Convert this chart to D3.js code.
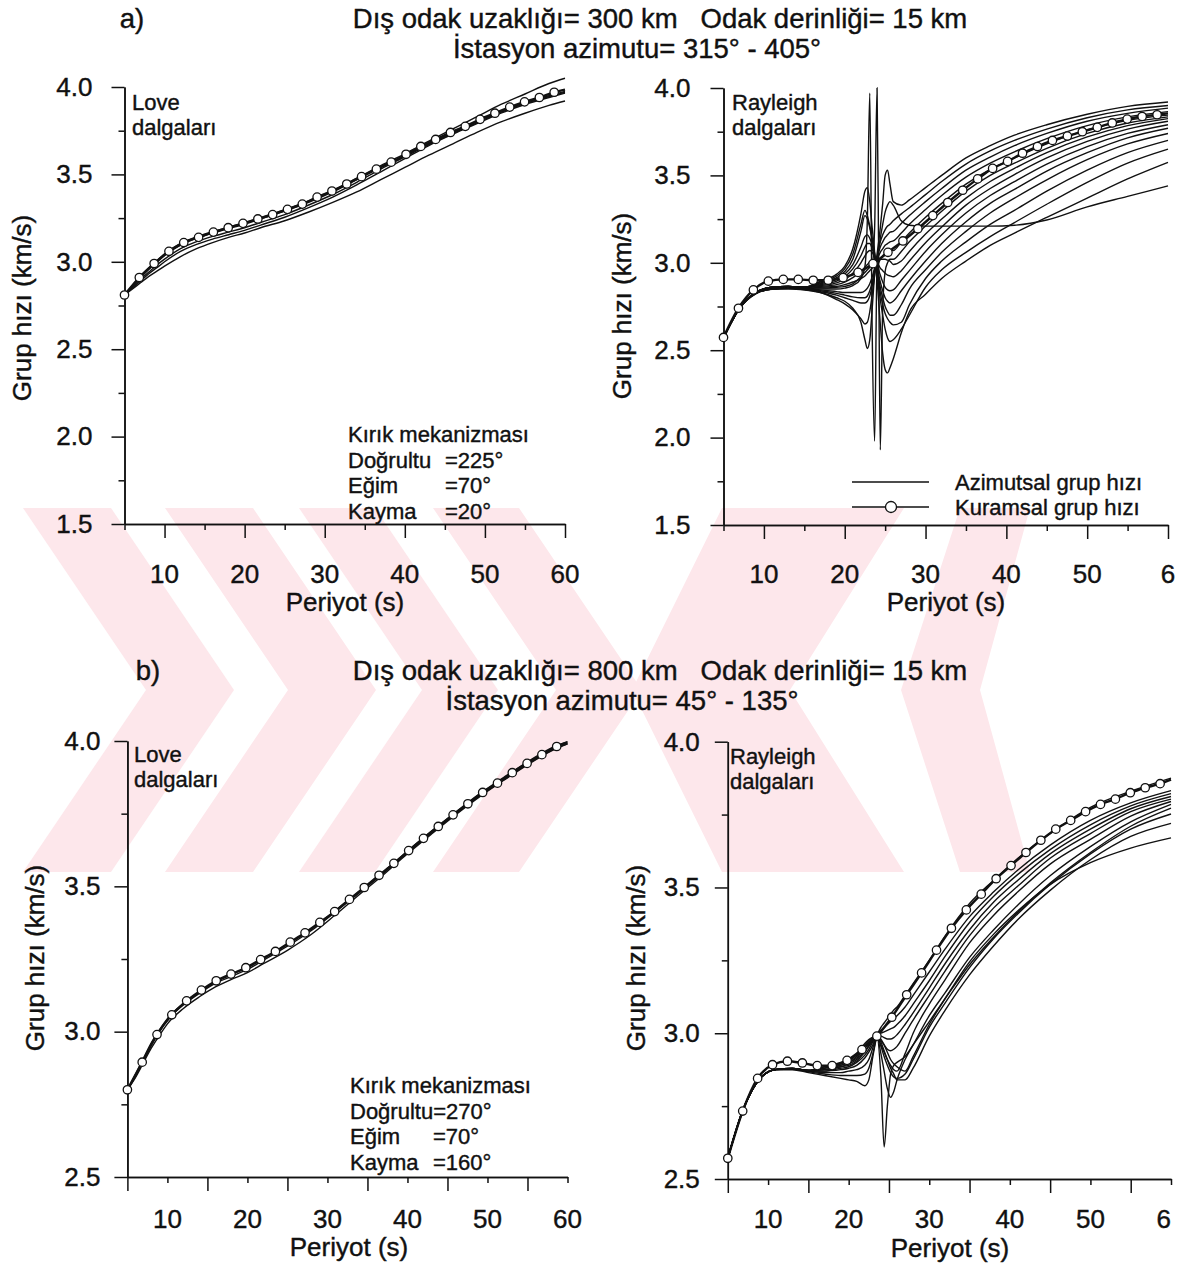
<!DOCTYPE html>
<html lang="tr">
<head>
  <meta charset="UTF-8">
  <title>Grup hızı - azimut</title>
  <script src="https://d3js.org/d3.v7.min.js"></script>
  <style>
    body { margin: 0; background: #fff; }
    svg text { font-family: "Liberation Sans", Arial, sans-serif; fill: #111; stroke: #111; stroke-width: 0.4px; }
    .azi { fill: none; stroke: #111; stroke-width: 1.4px; }
    .theo { fill: none; stroke: #111; stroke-width: 2.4px; }
    .circ { fill: #fff; stroke: #111; stroke-width: 1.3px; }
    .axis path, .axis line { stroke: #111; stroke-width: 1.5px; }
  </style>
</head>
<body>
<div id="chart"></div>
<script>
// periods of the theoretical (circle) points; last one only closes the line
const theoPeriods = [5, 6.85, 8.7, 10.55, 12.4, 14.25, 16.1, 17.95, 19.8, 21.65, 23.5, 25.35, 27.2, 29.05, 30.9,
  32.75, 34.6, 36.45, 38.3, 40.15, 42, 43.85, 45.7, 47.55, 49.4, 51.25, 53.1, 54.95, 56.8, 58.65, 60];

// a) Love, theoretical
const loveA_theo = [2.81, 2.91, 2.99, 3.06, 3.11, 3.14, 3.17, 3.195, 3.22, 3.245, 3.27, 3.30, 3.33, 3.37, 3.405,
  3.445, 3.487, 3.53, 3.57, 3.615, 3.66, 3.70, 3.74, 3.775, 3.815, 3.85, 3.885, 3.915, 3.94, 3.97, 3.985];
// a) Rayleigh, theoretical
const rayA_theo = [2.573, 2.74, 2.845, 2.895, 2.905, 2.905, 2.90, 2.90, 2.915, 2.945, 2.995, 3.06, 3.125, 3.195, 3.27,
  3.345, 3.415, 3.48, 3.54, 3.58, 3.627, 3.665, 3.70, 3.725, 3.75, 3.775, 3.80, 3.822, 3.837, 3.847, 3.855];
// b) Love, theoretical
const loveB_theo = [2.80, 2.895, 2.99, 3.058, 3.106, 3.143, 3.175, 3.198, 3.22, 3.248, 3.276, 3.308, 3.34, 3.376, 3.413,
  3.455, 3.496, 3.538, 3.579, 3.623, 3.665, 3.706, 3.746, 3.784, 3.823, 3.855, 3.891, 3.923, 3.953, 3.981, 3.995];
// b) Rayleigh, theoretical
const rayB_theo = [2.571, 2.733, 2.845, 2.892, 2.904, 2.898, 2.889, 2.889, 2.907, 2.944, 2.99, 3.055, 3.132, 3.207, 3.285,
  3.36, 3.423, 3.477, 3.53, 3.575, 3.62, 3.662, 3.70, 3.73, 3.76, 3.785, 3.803, 3.825, 3.842, 3.856, 3.87];

// Love azimuthal curves (both cases)
const loveGrid = [5, 6, 7, 8, 9, 10, 12, 14, 16, 18, 20, 22, 25, 28, 31, 34, 37, 40, 43, 46, 49, 52, 55, 58, 60];
const loveA_azi = [
  [2.81, 2.865, 2.92, 2.965, 3.005, 3.045, 3.105, 3.143, 3.172, 3.198, 3.223, 3.253, 3.298, 3.348, 3.408, 3.478, 3.55, 3.618, 3.69, 3.76, 3.83, 3.90, 3.96, 4.02, 4.05],
  [2.81, 2.86, 2.91, 2.955, 2.995, 3.035, 3.095, 3.135, 3.165, 3.19, 3.215, 3.245, 3.29, 3.34, 3.40, 3.47, 3.54, 3.605, 3.675, 3.74, 3.80, 3.86, 3.91, 3.95, 3.975],
  [2.81, 2.855, 2.90, 2.94, 2.98, 3.015, 3.075, 3.115, 3.145, 3.17, 3.195, 3.225, 3.27, 3.325, 3.385, 3.455, 3.53, 3.60, 3.67, 3.735, 3.795, 3.855, 3.905, 3.945, 3.97],
  [2.81, 2.85, 2.89, 2.93, 2.965, 3.0, 3.06, 3.10, 3.13, 3.155, 3.18, 3.21, 3.255, 3.31, 3.37, 3.44, 3.515, 3.59, 3.665, 3.73, 3.79, 3.85, 3.90, 3.94, 3.965],
  [2.81, 2.845, 2.88, 2.915, 2.945, 2.975, 3.03, 3.075, 3.11, 3.14, 3.165, 3.195, 3.235, 3.285, 3.34, 3.40, 3.47, 3.54, 3.61, 3.675, 3.74, 3.80, 3.85, 3.895, 3.92]
];
const loveB_azi = [
  [2.80, 2.845, 2.90, 2.955, 3.0, 3.04, 3.092, 3.132, 3.166, 3.19, 3.214, 3.246, 3.294, 3.348, 3.412, 3.478, 3.545, 3.616, 3.684, 3.749, 3.811, 3.866, 3.92, 3.968, 3.99],
  [2.80, 2.842, 2.893, 2.944, 2.987, 3.027, 3.08, 3.12, 3.154, 3.18, 3.203, 3.234, 3.28, 3.335, 3.402, 3.472, 3.54, 3.612, 3.68, 3.746, 3.808, 3.864, 3.918, 3.966, 3.99],
  [2.80, 2.852, 2.908, 2.962, 3.006, 3.045, 3.096, 3.135, 3.17, 3.196, 3.22, 3.252, 3.30, 3.353, 3.417, 3.483, 3.55, 3.621, 3.69, 3.755, 3.818, 3.874, 3.928, 3.976, 3.998]
];

// a) Rayleigh azimuthal curves
const rayA_grid = [5, 7, 9, 11, 13, 15, 17, 19, 20, 21, 22, 22.5, 22.8, 23.1, 23.4, 23.7, 24.0, 24.2, 24.4, 24.7,
  25.0, 25.3, 25.6, 26, 27, 28, 30, 32, 35, 38, 41, 45, 50, 55, 60];
const rayA_azi = [
  [2.57, 2.74, 2.825, 2.85, 2.855, 2.845, 2.83, 2.80, 2.78, 2.74, 2.66, 2.56, 2.51, 2.56, 2.74, 2.93, 3.05, 3.12, 3.20, 3.34, 3.50, 3.53, 3.45, 3.35, 3.33, 3.36, 3.43, 3.50, 3.60, 3.67, 3.73, 3.79, 3.85, 3.895, 3.92],
  [2.57, 2.74, 2.825, 2.85, 2.855, 2.85, 2.835, 2.815, 2.80, 2.785, 2.77, 2.77, 2.78, 2.81, 2.87, 2.95, 3.03, 3.08, 3.12, 3.16, 3.19, 3.21, 3.22, 3.24, 3.28, 3.315, 3.39, 3.465, 3.565, 3.64, 3.70, 3.765, 3.83, 3.875, 3.90],
  [2.57, 2.74, 2.825, 2.85, 2.855, 2.85, 2.84, 2.825, 2.815, 2.805, 2.80, 2.80, 2.81, 2.84, 2.89, 2.96, 3.02, 3.06, 3.09, 3.12, 3.145, 3.16, 3.175, 3.18, 3.225, 3.27, 3.35, 3.425, 3.53, 3.605, 3.67, 3.74, 3.81, 3.855, 3.885],
  [2.57, 2.74, 2.825, 2.85, 2.855, 2.85, 2.845, 2.835, 2.83, 2.83, 2.83, 2.84, 2.855, 2.88, 2.92, 2.97, 3.015, 3.04, 3.06, 3.08, 3.10, 3.11, 3.12, 3.125, 3.17, 3.22, 3.305, 3.385, 3.49, 3.57, 3.635, 3.71, 3.785, 3.835, 3.865],
  [2.57, 2.742, 2.828, 2.855, 2.86, 2.855, 2.85, 2.85, 2.855, 2.87, 2.91, 2.98, 3.25, 3.97, 2.60, 1.98, 2.98, 3.0, 3.02, 3.04, 3.055, 3.065, 3.075, 3.07, 3.12, 3.17, 3.26, 3.34, 3.45, 3.535, 3.60, 3.68, 3.76, 3.815, 3.845],
  [2.57, 2.742, 2.828, 2.855, 2.86, 2.855, 2.855, 2.86, 2.865, 2.88, 2.92, 2.945, 2.96, 2.975, 2.99, 3.2, 4.0, 3.0, 1.93, 2.75, 2.95, 3.0, 3.02, 3.02, 3.065, 3.12, 3.21, 3.295, 3.41, 3.50, 3.57, 3.655, 3.74, 3.80, 3.835],
  [2.57, 2.742, 2.828, 2.855, 2.86, 2.855, 2.86, 2.865, 2.875, 2.89, 2.91, 2.925, 2.94, 2.955, 2.97, 2.99, 3.005, 3.01, 3.02, 3.02, 3.02, 3.015, 3.01, 2.99, 3.01, 3.065, 3.165, 3.25, 3.37, 3.465, 3.54, 3.63, 3.72, 3.785, 3.825],
  [2.57, 2.744, 2.83, 2.86, 2.865, 2.86, 2.865, 2.875, 2.89, 2.915, 2.95, 2.975, 2.99, 3.005, 3.01, 3.005, 2.995, 2.985, 2.97, 2.955, 2.94, 2.93, 2.925, 2.92, 2.955, 3.01, 3.115, 3.205, 3.33, 3.425, 3.505, 3.60, 3.695, 3.765, 3.81],
  [2.57, 2.744, 2.83, 2.86, 2.865, 2.86, 2.87, 2.885, 2.905, 2.94, 3.0, 3.04, 3.06, 3.07, 3.06, 3.03, 2.99, 2.96, 2.93, 2.89, 2.86, 2.845, 2.84, 2.845, 2.90, 2.955, 3.065, 3.16, 3.285, 3.385, 3.465, 3.565, 3.665, 3.74, 3.79],
  [2.57, 2.744, 2.83, 2.86, 2.865, 2.86, 2.875, 2.895, 2.92, 2.965, 3.04, 3.09, 3.11, 3.11, 3.08, 3.03, 2.97, 2.93, 2.89, 2.84, 2.80, 2.78, 2.77, 2.78, 2.84, 2.90, 3.01, 3.11, 3.235, 3.34, 3.42, 3.525, 3.63, 3.715, 3.77],
  [2.57, 2.744, 2.83, 2.86, 2.865, 2.86, 2.88, 2.905, 2.935, 2.99, 3.09, 3.15, 3.16, 3.14, 3.10, 3.04, 2.96, 2.91, 2.86, 2.80, 2.75, 2.72, 2.70, 2.70, 2.76, 2.85, 2.96, 3.06, 3.18, 3.285, 3.37, 3.475, 3.59, 3.68, 3.74],
  [2.57, 2.744, 2.83, 2.86, 2.865, 2.86, 2.885, 2.915, 2.95, 3.02, 3.18, 3.27, 3.25, 3.20, 3.13, 3.05, 2.95, 2.89, 2.83, 2.76, 2.71, 2.68, 2.66, 2.645, 2.66, 2.76, 2.91, 3.01, 3.12, 3.22, 3.30, 3.41, 3.53, 3.63, 3.70],
  [2.57, 2.744, 2.83, 2.86, 2.865, 2.86, 2.89, 2.925, 2.965, 3.05, 3.22, 3.30, 3.27, 3.21, 3.14, 3.05, 2.93, 2.86, 2.79, 2.70, 2.62, 2.57, 2.55, 2.56, 2.62, 2.70, 2.86, 2.96, 3.06, 3.15, 3.23, 3.335, 3.46, 3.57, 3.65],
  [2.57, 2.744, 2.83, 2.86, 2.865, 2.86, 2.895, 2.935, 2.98, 3.08, 3.28, 3.41, 3.43, 3.35, 3.20, 3.06, 2.90, 2.78, 2.65, 2.48, 2.39, 2.37, 2.40, 2.45, 2.60, 2.72, 2.82, 2.91, 3.01, 3.10, 3.17, 3.26, 3.37, 3.48, 3.575],
  [2.57, 2.74, 2.822, 2.848, 2.85, 2.845, 2.83, 2.79, 2.765, 2.73, 2.68, 2.65, 2.66, 2.72, 2.82, 2.93, 3.02, 3.08, 3.14, 3.22, 3.29, 3.33, 3.35, 3.33, 3.24, 3.215, 3.21, 3.21, 3.21, 3.21, 3.215, 3.245, 3.32, 3.38, 3.44]
];

// b) Rayleigh azimuthal curves
const rayB_grid = [5, 7, 9, 11, 13, 15, 17, 19, 20, 21, 22, 22.5, 23, 23.5, 24, 24.4, 24.8, 25.2, 25.6, 26,
  27, 28, 30, 32, 35, 38, 41, 45, 50, 55, 60];
const rayB_azi = [
  [2.571, 2.745, 2.845, 2.875, 2.875, 2.865, 2.855, 2.845, 2.84, 2.835, 2.82, 2.84, 2.92, 2.99, 3.02, 3.035, 3.05, 3.065, 3.08, 3.09, 3.13, 3.17, 3.25, 3.335, 3.445, 3.525, 3.60, 3.685, 3.775, 3.83, 3.875],
  [2.571, 2.745, 2.845, 2.875, 2.877, 2.868, 2.86, 2.855, 2.855, 2.855, 2.86, 2.88, 2.93, 2.99, 3.01, 3.02, 3.03, 3.04, 3.05, 3.06, 3.09, 3.13, 3.21, 3.29, 3.40, 3.485, 3.56, 3.645, 3.73, 3.79, 3.832],
  [2.571, 2.745, 2.845, 2.875, 2.878, 2.87, 2.865, 2.865, 2.87, 2.875, 2.89, 2.91, 2.95, 2.99, 3.0, 3.005, 3.01, 3.015, 3.02, 3.03, 3.06, 3.10, 3.18, 3.265, 3.38, 3.47, 3.545, 3.63, 3.715, 3.78, 3.822],
  [2.571, 2.745, 2.845, 2.875, 2.878, 2.87, 2.87, 2.875, 2.88, 2.89, 2.915, 2.935, 2.96, 2.99, 2.99, 2.985, 2.98, 2.98, 2.985, 2.995, 3.03, 3.07, 3.155, 3.24, 3.355, 3.45, 3.525, 3.615, 3.70, 3.77, 3.812],
  [2.571, 2.745, 2.845, 2.876, 2.879, 2.872, 2.875, 2.885, 2.89, 2.905, 2.935, 2.955, 2.975, 2.99, 2.975, 2.96, 2.945, 2.94, 2.945, 2.955, 3.0, 3.045, 3.13, 3.215, 3.335, 3.43, 3.505, 3.60, 3.685, 3.76, 3.803],
  [2.571, 2.745, 2.845, 2.876, 2.879, 2.872, 2.88, 2.89, 2.90, 2.915, 2.95, 2.965, 2.98, 2.99, 2.96, 2.935, 2.91, 2.89, 2.875, 2.87, 2.93, 3.0, 3.10, 3.185, 3.31, 3.405, 3.485, 3.58, 3.665, 3.745, 3.795],
  [2.571, 2.745, 2.845, 2.876, 2.879, 2.872, 2.885, 2.895, 2.905, 2.925, 2.96, 2.975, 2.985, 2.99, 2.93, 2.87, 2.81, 2.78, 2.80, 2.84, 2.91, 2.96, 3.06, 3.14, 3.26, 3.355, 3.44, 3.54, 3.64, 3.725, 3.785],
  [2.571, 2.745, 2.845, 2.876, 2.879, 2.872, 2.885, 2.90, 2.91, 2.93, 2.965, 2.978, 2.987, 2.99, 2.85, 2.61, 2.75, 2.86, 2.89, 2.90, 2.92, 2.96, 3.04, 3.12, 3.235, 3.33, 3.415, 3.515, 3.62, 3.71, 3.772],
  [2.571, 2.745, 2.845, 2.876, 2.879, 2.872, 2.88, 2.89, 2.90, 2.92, 2.955, 2.97, 2.982, 2.99, 2.955, 2.92, 2.89, 2.865, 2.85, 2.845, 2.86, 2.91, 3.02, 3.105, 3.225, 3.325, 3.41, 3.51, 3.615, 3.70, 3.752],
  [2.571, 2.745, 2.845, 2.876, 2.879, 2.872, 2.875, 2.885, 2.895, 2.91, 2.94, 2.958, 2.975, 2.99, 2.97, 2.94, 2.91, 2.88, 2.86, 2.84, 2.84, 2.88, 2.99, 3.08, 3.20, 3.30, 3.39, 3.49, 3.595, 3.675, 3.72],
  [2.571, 2.745, 2.845, 2.876, 2.879, 2.872, 2.87, 2.88, 2.885, 2.90, 2.925, 2.945, 2.97, 2.99, 2.98, 2.96, 2.935, 2.91, 2.895, 2.885, 2.87, 2.92, 3.03, 3.12, 3.245, 3.34, 3.42, 3.51, 3.585, 3.635, 3.67]
];

// ticks and labels
const xMajorA = [10, 20, 30, 40, 50, 60], xMinorA = [5, 15, 25, 35, 45, 55];
const xMajorB = [5, 15, 25, 35, 45, 55], xMinorB = [10, 20, 30, 40, 50, 60];
const xLabelVals = [10, 20, 30, 40, 50, 60];
const xLabelsLeft = ['10', '20', '30', '40', '50', '60'];
const xLabelsRight = ['10', '20', '30', '40', '50', '6'];
const yMajorA = [1.5, 2.0, 2.5, 3.0, 3.5, 4.0], yMinorA = [1.75, 2.25, 2.75, 3.25, 3.75];
const yMajorB = [2.5, 3.0, 3.5, 4.0], yMinorB = [2.75, 3.25, 3.75];

const W = 1181, H = 1272;
const svg = d3.select('#chart').append('svg').attr('width', W).attr('height', H);
svg.append('rect').attr('width', W).attr('height', H).attr('fill', '#fff');

// faint watermark in the background: chevrons pointing right, then two pointing left
const wm = svg.append('g').attr('fill', '#fde7eb');
const wmShapes = [
  [[23, 508], [111, 508], [234, 690], [111, 872], [23, 872], [146, 690]],
  [[165, 508], [253, 508], [376, 690], [253, 872], [165, 872], [288, 690]],
  [[299, 508], [375, 508], [498, 690], [375, 872], [299, 872], [422, 690]],
  [[433, 508], [519, 508], [642, 690], [519, 872], [433, 872], [556, 690]],
  [[722, 508], [904, 508], [790, 690], [904, 872], [722, 872], [632, 690]],
  [[960, 508], [1030, 508], [980, 690], [1030, 872], [960, 872], [901, 690]]
];
wmShapes.forEach(p => wm.append('polygon').attr('points', p.map(d => d.join(',')).join(' ')));

function panel(o) {
  const g = svg.append('g');
  const x = d3.scaleLinear().domain([5, 60]).range(o.xr);
  const y = d3.scaleLinear().domain(o.yd).range(o.yr);
  const bottom = o.yr[0];

  // axes
  g.append('g').attr('class', 'axis').attr('transform', `translate(0,${bottom})`)
    .call(d3.axisBottom(x).tickValues(o.xMajor).tickSize(14).tickSizeOuter(0).tickFormat(''));
  g.append('g').attr('class', 'axis').attr('transform', `translate(0,${bottom})`)
    .call(d3.axisBottom(x).tickValues(o.xMinor).tickSize(6).tickSizeOuter(0).tickFormat(''));
  g.append('g').attr('class', 'axis').attr('transform', `translate(${o.xr[0]},0)`)
    .call(d3.axisLeft(y).tickValues(o.yMajor).tickSize(13).tickSizeOuter(0).tickPadding(o.yPad)
      .tickFormat(d3.format('.1f')))
    .selectAll('text').style('font-size', '26px').style('font-family', '"Liberation Sans", Arial, sans-serif');
  g.append('g').attr('class', 'axis').attr('transform', `translate(${o.xr[0]},0)`)
    .call(d3.axisLeft(y).tickValues(o.yMinor).tickSize(6).tickSizeOuter(0).tickFormat(''));
  g.selectAll('.axis .domain').attr('stroke', '#111');

  // x tick labels
  g.selectAll('.xl').data(xLabelVals).join('text')
    .attr('x', d => x(d)).attr('y', o.xLabY)
    .attr('text-anchor', (d, i) => (i === 5 && o.lastAnchor) ? o.lastAnchor : 'middle')
    .style('font-size', '26px').text((d, i) => o.xLabels[i]);

  g.append('text').attr('x', o.xTitle[0]).attr('y', o.xTitle[1]).attr('text-anchor', 'middle')
    .style('font-size', '26px').text('Periyot (s)');
  g.append('text').attr('transform', `translate(${o.yTitle[0]},${o.yTitle[1]}) rotate(-90)`)
    .attr('text-anchor', 'middle').style('font-size', '26px').text('Grup hızı (km/s)');

  // curves
  const line = d3.line().x(d => x(d[0])).y(d => y(d[1])).curve(d3.curveMonotoneX);
  o.azi.forEach(vals => {
    g.append('path').attr('class', 'azi').attr('d', line(o.grid.map((p, i) => [p, vals[i]])));
  });
  const theo = theoPeriods.map((p, i) => [p, o.theo[i]]);
  g.append('path').attr('class', 'theo').attr('d', line(theo));
  g.selectAll('.circ').data(theo.slice(0, -1)).join('circle').attr('class', 'circ')
    .attr('cx', d => x(d[0])).attr('cy', d => y(d[1])).attr('r', 4.2);

  // wave type label
  g.append('text').attr('x', o.wave[0]).attr('y', o.wave[1]).style('font-size', '22px').text(o.waveName);
  g.append('text').attr('x', o.wave[0]).attr('y', o.wave[1] + 25).style('font-size', '22px').text('dalgaları');
  return { g, x, y };
}

const A1 = panel({ xr: [124.5, 565], yd: [1.5, 4.0], yr: [524, 87], xMajor: xMajorA, xMinor: xMinorA,
  yMajor: yMajorA, yMinor: yMinorA, yPad: 19, xLabY: 583, xLabels: xLabelsLeft, xTitle: [345, 611], yTitle: [31, 308],
  grid: loveGrid, azi: loveA_azi, theo: loveA_theo, wave: [132, 110], waveName: 'Love' });
const A2 = panel({ xr: [723.5, 1168], yd: [1.5, 4.0], yr: [525, 88], xMajor: xMajorA, xMinor: xMinorA,
  yMajor: yMajorA, yMinor: yMinorA, yPad: 20, xLabY: 583, xLabels: xLabelsRight, lastAnchor: 'middle', xTitle: [946, 611], yTitle: [631, 306],
  grid: rayA_grid, azi: rayA_azi, theo: rayA_theo, wave: [732, 110], waveName: 'Rayleigh' });
const B1 = panel({ xr: [127.4, 567.5], yd: [2.5, 4.0], yr: [1177, 741], xMajor: xMajorB, xMinor: xMinorB,
  yMajor: yMajorB, yMinor: yMinorB, yPad: 14, xLabY: 1228, xLabels: xLabelsLeft, xTitle: [349, 1256], yTitle: [44, 958],
  grid: loveGrid, azi: loveB_azi, theo: loveB_theo, wave: [134, 762], waveName: 'Love' });
const B2 = panel({ xr: [727.8, 1171], yd: [2.5, 4.0], yr: [1179, 741.7], xMajor: xMajorB, xMinor: xMinorB,
  yMajor: yMajorB, yMinor: yMinorB, yPad: 15, xLabY: 1228, xLabels: xLabelsRight, lastAnchor: 'end', xTitle: [950, 1257], yTitle: [645, 958],
  grid: rayB_grid, azi: rayB_azi, theo: rayB_theo, wave: [730, 764], waveName: 'Rayleigh' });

// fault mechanism notes
function note(g, x0, xv, y0, rows) {
  g.append('text').attr('x', x0).attr('y', y0).style('font-size', '22px').text('Kırık mekanizması');
  rows.forEach((r, i) => {
    g.append('text').attr('x', x0).attr('y', y0 + 25.5 * (i + 1)).style('font-size', '22px').text(r[0]);
    if (r[1]) g.append('text').attr('x', xv).attr('y', y0 + 25.5 * (i + 1)).style('font-size', '22px').text(r[1]);
  });
}
note(A1.g, 348, 445, 442, [['Doğrultu', '=225°'], ['Eğim', '=70°'], ['Kayma', '=20°']]);
note(B1.g, 350, 433, 1093, [['Doğrultu=270°', ''], ['Eğim', '=70°'], ['Kayma', '=160°']]);

// legend (a, Rayleigh)
const lg = A2.g.append('g');
lg.append('line').attr('x1', 852).attr('x2', 929).attr('y1', 482).attr('y2', 482).attr('stroke', '#111').attr('stroke-width', 1.4);
lg.append('line').attr('x1', 852).attr('x2', 929).attr('y1', 507).attr('y2', 507).attr('stroke', '#111').attr('stroke-width', 1.4);
lg.append('circle').attr('class', 'circ').attr('cx', 891).attr('cy', 507).attr('r', 5.5);
lg.append('text').attr('x', 955).attr('y', 490).style('font-size', '22px').text('Azimutsal grup hızı');
lg.append('text').attr('x', 955).attr('y', 515).style('font-size', '22px').text('Kuramsal grup hızı');

// titles
function title(lbl, lx, ly, l1, l1x, l2, l2x) {
  svg.append('text').attr('x', lx).attr('y', ly).attr('text-anchor', 'middle').style('font-size', '27.5px').text(lbl);
  svg.append('text').attr('x', l1x).attr('y', ly).attr('text-anchor', 'middle').style('font-size', '27.5px')
    .attr('xml:space', 'preserve').text(l1);
  svg.append('text').attr('x', l2x).attr('y', ly + 30).attr('text-anchor', 'middle').style('font-size', '27.5px').text(l2);
}
title('a)', 132, 28, 'Dış odak uzaklığı= 300 km   Odak derinliği= 15 km', 660, 'İstasyon azimutu= 315° - 405°', 637);
title('b)', 148, 680, 'Dış odak uzaklığı= 800 km   Odak derinliği= 15 km', 660, 'İstasyon azimutu= 45° - 135°', 622);
</script>
</body>
</html>
